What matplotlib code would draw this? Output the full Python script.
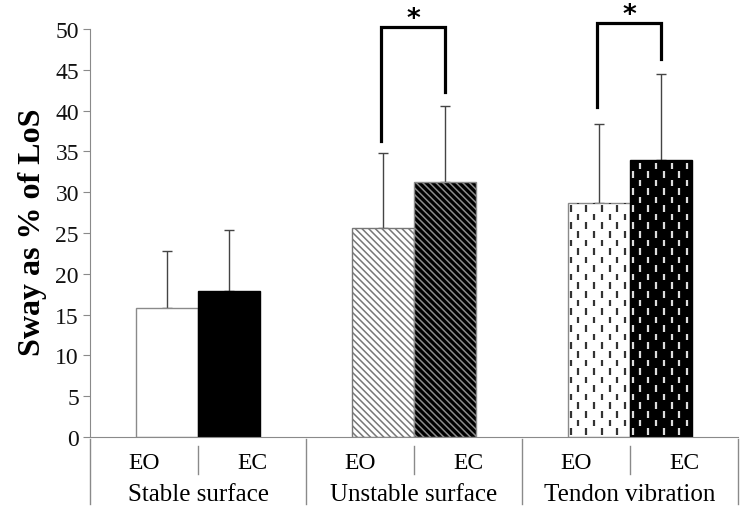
import numpy as np
import matplotlib.pyplot as plt
import matplotlib.transforms as mtransforms
from matplotlib.collections import LineCollection

plt.rcParams['font.family'] = ['Liberation Serif', 'DejaVu Serif']
plt.rcParams['hatch.linewidth'] = 1.1

conditions = ['Stable surface', 'Unstable surface', 'Tendon vibration']
eyes = ['EO', 'EC']
eo_mean = [15.8, 25.6, 28.7]
eo_sd = [7.0, 9.2, 9.7]
ec_mean = [17.9, 31.2, 33.9]
ec_sd = [7.5, 9.4, 10.6]

# significance brackets: group index, top, left leg end, right leg end
sig_group = [1, 2]
sig_top = [50.2, 50.7]
sig_left_low = [36.3, 40.4]
sig_right_low = [42.3, 46.3]

x = np.arange(len(conditions))
w = 0.287

fig = plt.figure(figsize=(7.44, 5.10), dpi=100)
ax = fig.add_axes([0.121, 0.141, 0.871, 0.8])

gray = '#8a8a8a'
eo_face = ['white', 'white', 'white']
ec_face = ['black', 'black', 'black']
eo_hatch = [None, '\\\\\\\\\\', None]
ec_hatch = [None, '\\\\\\\\\\', None]
eo_edge = [gray, '#777777', gray]
ec_edge = ['black', '#8c8c8c', 'black']

eo_bars = ax.bar(x - w / 2, eo_mean, w, color=eo_face, edgecolor=eo_edge, linewidth=1, zorder=2)
ec_bars = ax.bar(x + w / 2, ec_mean, w, color=ec_face, edgecolor=ec_edge, linewidth=1, zorder=2)
for b, h in zip(eo_bars, eo_hatch):
    if h:
        b.set_hatch(h)
for b, h in zip(ec_bars, ec_hatch):
    if h:
        b.set_hatch(h)

# dashed fill for the tendon vibration bars
dx, dy, dl = 0.036, 2.1, 0.8
for b, col in [(eo_bars[2], '#333333'), (ec_bars[2], '#dddddd')]:
    x0, wd, ht = b.get_x(), b.get_width(), b.get_height()
    segs = []
    for i, xc in enumerate(np.arange(x0 + 0.012, x0 + wd - 0.005, dx)):
        off = 0.3 if i % 2 == 0 else 0.3 + dy / 2
        for yc in np.arange(off, ht, dy):
            segs.append([(xc, yc), (xc, min(yc + dl, ht - 0.15))])
    lc = LineCollection(segs, colors=col, linewidths=1.6, zorder=3, capstyle='butt')
    ax.add_collection(lc)

ax.errorbar(x - w / 2, eo_mean, yerr=[np.zeros(3), eo_sd], fmt='none', ecolor='#444444',
            elinewidth=1, capsize=3.5, capthick=1, zorder=1)
ax.errorbar(x + w / 2, ec_mean, yerr=[np.zeros(3), ec_sd], fmt='none', ecolor='#444444',
            elinewidth=1, capsize=3.5, capthick=1, zorder=1)

for g, top, lo_l, lo_r in zip(sig_group, sig_top, sig_left_low, sig_right_low):
    xl, xr = g - w / 2 - 0.01, g + w / 2
    ax.plot([xl, xl, xr, xr], [lo_l, top, top, lo_r], color='black', lw=2.3,
            clip_on=False, solid_joinstyle='miter', zorder=4)
    ax.annotate('*', ((xl + xr) / 2, top), xytext=(0, 6), textcoords='offset points',
                ha='center', va='center', fontsize=19, fontweight='bold',
                family='DejaVu Sans', annotation_clip=False)

ax.set_xlim(-0.5, 2.5)
ax.set_ylim(0, 50)
ax.set_yticks(np.arange(0, 51, 5))
ax.tick_params(axis='y', labelsize=17, length=5, color=gray, pad=3, labelcolor='#111111')
ax.set_xticks([])
for s in ['top', 'right']:
    ax.spines[s].set_visible(False)
ax.spines['left'].set_color(gray)
ax.spines['bottom'].set_color(gray)
fig.text(33 / 744, 1 - 232 / 510, 'Sway as % of LoS', rotation=90, ha='center', va='center',
         fontsize=23, fontweight='bold')

trans = mtransforms.blended_transform_factory(ax.transData, ax.transAxes)
for i, cond in enumerate(conditions):
    ax.text(i - 0.25, -0.062, eyes[0], transform=trans, ha='center', va='center', fontsize=17)
    ax.text(i + 0.25, -0.062, eyes[1], transform=trans, ha='center', va='center', fontsize=17)
    ax.text(i, -0.14, cond, transform=trans, ha='center', va='center', fontsize=18)
    ax.plot([i, i], [-0.022, -0.091], transform=trans, color=gray, lw=1, clip_on=False)
for s in np.arange(-0.5, 3.0, 1.0):
    ax.plot([s, s], [-0.005, -0.164], transform=trans, color=gray, lw=1, clip_on=False)

fig.savefig('out.png', dpi=100)
